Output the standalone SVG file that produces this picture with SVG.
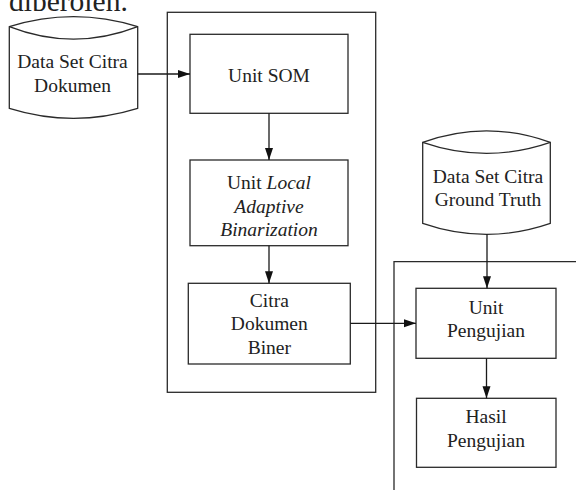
<svg xmlns="http://www.w3.org/2000/svg" width="576" height="490" viewBox="0 0 576 490">
  <style>
    .box { fill: #ffffff; stroke: #2a2a2a; stroke-width: 1.3; }
    .frame { fill: none; stroke: #2a2a2a; stroke-width: 1.3; }
    .conn { fill: none; stroke: #1a1a1a; stroke-width: 1.3; }
    text { font-family: "Liberation Serif", "Times New Roman", serif; font-size: 19.5px; fill: #222222; text-anchor: middle; }
    .it { font-style: italic; }
  </style>
  <defs>
    <marker id="arr" markerUnits="userSpaceOnUse" markerWidth="12" markerHeight="10" refX="12" refY="5" orient="auto">
      <path d="M0,1 L12,5 L0,9 Z" fill="#111111"/>
    </marker>
    <clipPath id="topclip">
      <rect x="0" y="0" width="200" height="11"/>
    </clipPath>
  </defs>
  <rect x="0" y="0" width="576" height="490" fill="#ffffff"/>

  <text x="9" y="10.5" clip-path="url(#topclip)" style="font-size:29.5px;text-anchor:start">diperoleh.</text>

  <g id="frame-main">
    <rect class="frame" x="167.3" y="12.3" width="208.4" height="380"/>
  </g>
  <g id="frame-test">
    <path class="frame" d="M576,261.7 H394 V490"/>
  </g>

  <g id="ds-dokumen">
    <path class="box" d="M9.3,26.7 Q73.5,6.7 137.7,26.7 V108.3 Q73.5,128.3 9.3,108.3 Z"/>
    <path class="frame" d="M9.3,26.7 Q73.5,51.7 137.7,26.7"/>
    <text x="72.5" y="68">Data Set Citra</text>
    <text x="72.5" y="92">Dokumen</text>
  </g>

  <g id="unit-som">
    <rect class="box" x="190" y="34.3" width="158" height="79"/>
    <text x="269" y="82">Unit SOM</text>
  </g>

  <g id="unit-lab">
    <rect class="box" x="190" y="160" width="158" height="85.7"/>
    <text x="269" y="189.3">Unit <tspan class="it">Local</tspan></text>
    <text x="269" y="212.7" class="it">Adaptive</text>
    <text x="269" y="236" class="it">Binarization</text>
  </g>

  <g id="citra-biner">
    <rect class="box" x="188.3" y="283.3" width="162" height="80.7"/>
    <text x="269.3" y="306.7">Citra</text>
    <text x="269.3" y="330">Dokumen</text>
    <text x="269.3" y="354">Biner</text>
  </g>

  <g id="ds-ground-truth">
    <path class="box" d="M422.7,142.3 Q486.5,119.3 550.3,142.3 V223.3 Q486.5,245.3 422.7,223.3 Z"/>
    <path class="frame" d="M422.7,142.3 Q486.5,164.3 550.3,142.3"/>
    <text x="488" y="183.3">Data Set Citra</text>
    <text x="488" y="205.7">Ground Truth</text>
  </g>

  <g id="unit-pengujian">
    <rect class="box" x="416" y="288.3" width="140" height="70"/>
    <text x="486" y="314">Unit</text>
    <text x="486" y="336.7">Pengujian</text>
  </g>

  <g id="hasil-pengujian">
    <rect class="box" x="416.5" y="398.3" width="139.5" height="69"/>
    <text x="486" y="423.3">Hasil</text>
    <text x="486" y="446.7">Pengujian</text>
  </g>

  <g id="connectors">
    <line class="conn" x1="137.7" y1="74" x2="190" y2="74" marker-end="url(#arr)"/>
    <line class="conn" x1="269" y1="113.3" x2="269" y2="160" marker-end="url(#arr)"/>
    <line class="conn" x1="269" y1="245.7" x2="269" y2="283.3" marker-end="url(#arr)"/>
    <line class="conn" x1="350.3" y1="323.3" x2="416" y2="323.3" marker-end="url(#arr)"/>
    <line class="conn" x1="487" y1="234.3" x2="487" y2="288.3" marker-end="url(#arr)"/>
    <line class="conn" x1="486.5" y1="358.3" x2="486.5" y2="398.3" marker-end="url(#arr)"/>
  </g>
</svg>
